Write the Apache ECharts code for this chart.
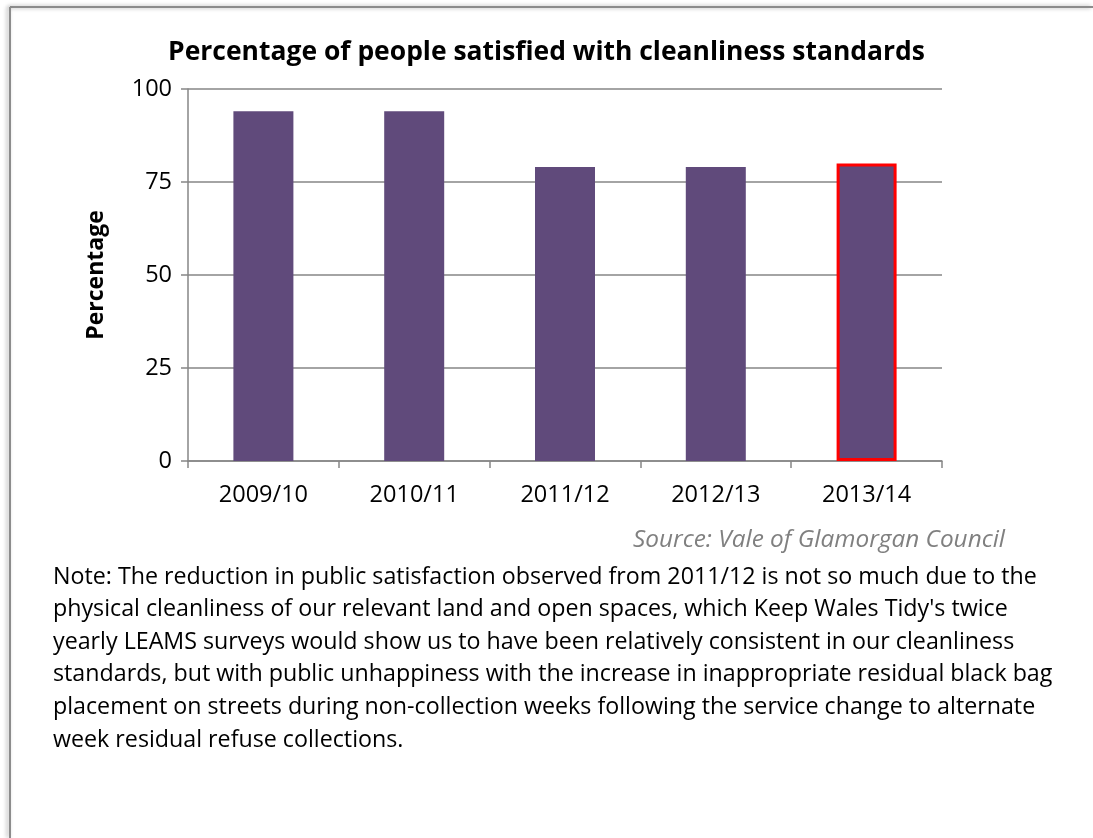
<!DOCTYPE html>
<html><head><meta charset="utf-8">
<script src="https://cdn.jsdelivr.net/npm/echarts@6/dist/echarts.min.js"></script>
<style>html,body{margin:0;padding:0;background:#fff}#c{width:1093px;height:838px}</style>
</head><body><div id="c"></div>
<script>
const titleText = 'Percentage of people satisfied with cleanliness standards';
const categories = ['2009/10', '2010/11', '2011/12', '2012/13', '2013/14'];
const values = [94, 94, 79, 79, 80];
const highlightIndex = 4;
const yTicks = [0, 25, 50, 75, 100];
const yAxisName = 'Percentage';
const sourceText = 'Source: Vale of Glamorgan Council';
const noteLines = [
  "Note: The reduction in public satisfaction observed from 2011/12 is not so much due to the",
  "physical cleanliness of our relevant land and open spaces, which Keep Wales Tidy's twice",
  "yearly LEAMS surveys would show us to have been relatively consistent in our cleanliness",
  "standards, but with public unhappiness with the increase in inappropriate residual black bag",
  "placement on streets during non-collection weeks following the service change to alternate",
  "week residual refuse collections."
];

const FONT = '"Open Sans", sans-serif';
const ctx = document.createElement('canvas').getContext('2d');
function fit(text, target, weight, style) {
  ctx.font = (style || 'normal') + ' ' + (weight || 'normal') + ' 100px ' + FONT;
  return 100 * target / ctx.measureText(text).width;
}
const titleSize = fit(titleText, 757, 'bold');
const noteTargets = [962, 952, 967, 1000, 990];
const ratios = noteTargets.map((w, i) => fit(noteLines[i], w)).sort((a, b) => a - b);
const noteSize = ratios[2];
const srcSize = fit(sourceText, 372, 'normal', 'italic');

const chart = echarts.init(document.getElementById('c'), null, {renderer: 'canvas'});
const noteGraphics = noteLines.map((t, i) => ({
  type: 'text', left: 53, top: 579 + i * 32.6 - noteSize * 0.58,
  style: {text: t, fontFamily: FONT, fontSize: noteSize, fill: '#000'}
}));
chart.setOption({
  animation: false,
  title: {text: titleText, left: 'center', top: 34, textStyle: {fontFamily: FONT, fontWeight: 'bold', fontSize: titleSize, color: '#000'}},
  grid: {left: 188, right: 151, top: 89, bottom: 377},
  xAxis: {
    type: 'category', data: categories,
    axisLine: {lineStyle: {color: '#868686', width: 1.5}},
    axisTick: {show: true, length: 7, alignWithLabel: false, lineStyle: {color: '#868686', width: 1.5}},
    axisLabel: {fontFamily: FONT, fontSize: 23.5, color: '#000', margin: 22}
  },
  yAxis: {
    type: 'value', min: yTicks[0], max: yTicks[yTicks.length - 1], interval: 25,
    name: yAxisName, nameLocation: 'middle', nameGap: 80, nameRotate: 90,
    nameTextStyle: {fontFamily: FONT, fontWeight: 'bold', fontSize: 23, color: '#000'},
    axisLine: {show: true, lineStyle: {color: '#868686', width: 1.5}},
    axisTick: {show: true, length: 7, lineStyle: {color: '#868686', width: 1.5}},
    splitLine: {show: true, lineStyle: {color: '#868686', width: 1.5}},
    axisLabel: {fontFamily: FONT, fontSize: 23.5, color: '#000', margin: 16}
  },
  series: [{
    type: 'bar', barWidth: 60,
    data: values.map((v, i) => i === highlightIndex
      ? {value: v, itemStyle: {color: '#604a7b', borderColor: '#ff0000', borderWidth: 3}}
      : {value: v}),
    itemStyle: {color: '#604a7b'}
  }],
  graphic: [
    {type: 'line', shape: {x1: 10, y1: 7, x2: 1093, y2: 7}, style: {stroke: '#8c8c8c', lineWidth: 2, shadowBlur: 4, shadowColor: 'rgba(0,0,0,0.35)', shadowOffsetX: -2, shadowOffsetY: 0}},
    {type: 'line', shape: {x1: 10, y1: 7, x2: 10, y2: 838}, style: {stroke: '#8c8c8c', lineWidth: 2, shadowBlur: 4, shadowColor: 'rgba(0,0,0,0.35)', shadowOffsetX: -2, shadowOffsetY: 0}},
    {type: 'text', right: 1093 - 1005, top: 541 - srcSize * 0.55, style: {text: sourceText, fontFamily: FONT, fontStyle: 'italic', fontSize: srcSize, fill: '#808080'}}
  ].concat(noteGraphics)
});
</script></body></html>
